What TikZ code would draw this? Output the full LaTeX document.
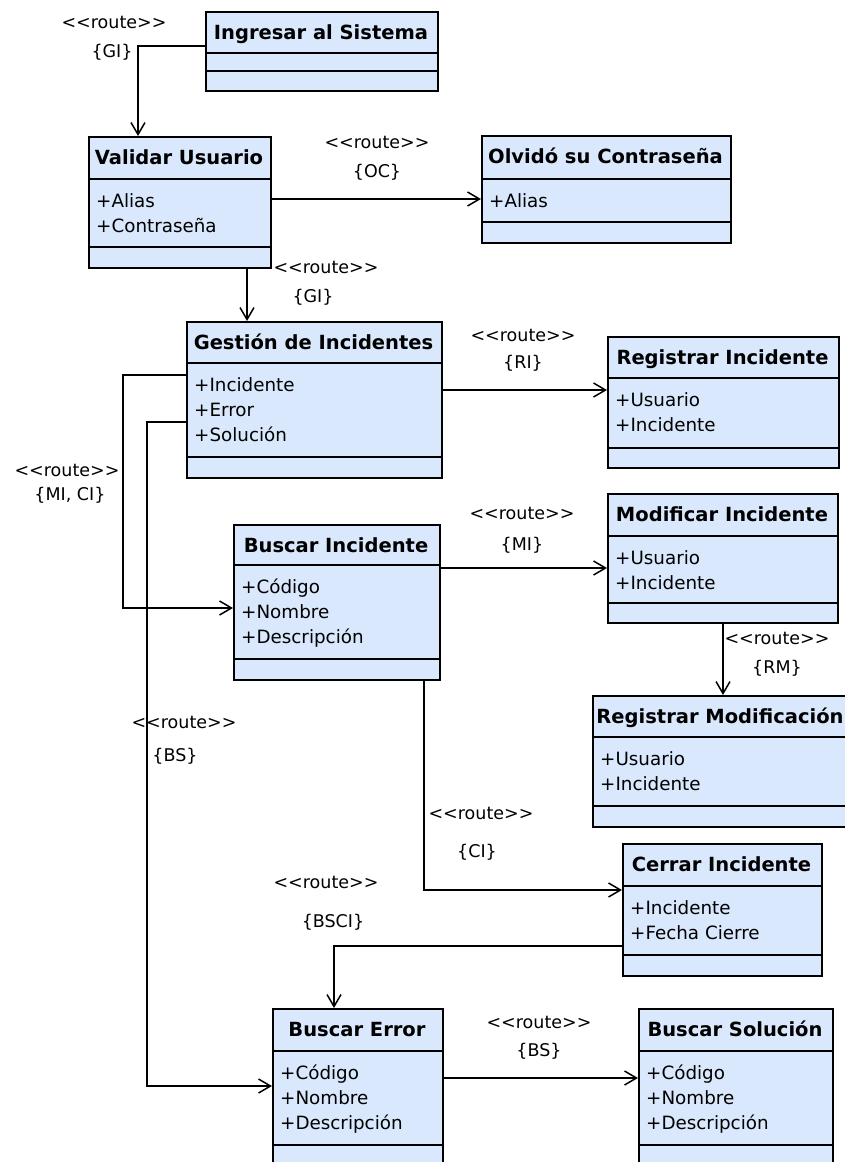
\documentclass[tikz,border=0pt]{standalone}
\usepackage{fontspec}
\setmainfont{DejaVu Sans}
\usetikzlibrary{arrows.meta,calc}
\definecolor{classfill}{RGB}{217,232,252}
\tikzset{
  classbox/.style={draw=black, fill=classfill, line width=1.6pt, rectangle, inner sep=0pt, anchor=north west},
  classline/.style={line width=1.6pt},
  classtitle/.style={anchor=base, inner sep=0pt, font=\bfseries\fontsize{19.5}{23}\selectfont},
  classattr/.style={anchor=base west, inner sep=0pt, font=\fontsize{18.3}{22}\selectfont},
  routelbl/.style={inner sep=0pt, font=\fontsize{17.5}{21}\selectfont},
  route/.style={line width=1.5pt, -{Straight Barb[length=12pt,width=14pt,line width=1.5pt]}},
}
% stereotype text, kept apart so the angle brackets stay plain characters
\newcommand{\stereo}[1]{<\kern0pt<#1>\kern0pt>}
% class box: name, left, top, right, title separator, attribute separator, bottom, title
\newcommand{\umlclass}[8]{%
  \node[classbox, minimum width={(#4-#2)*1pt}, minimum height={(#7-#3)*1pt}] (#1) at (#2,#3) {};
  \draw[classline] (#2,#5) -- (#4,#5) (#2,#6) -- (#4,#6);
  \node[classtitle] (#1-title) at ({(#2+#4)/2},#3+28) {#8};
}
% attribute lines: name, left, title separator, list
\newcommand{\umlattrs}[4]{%
  \foreach \t [count=\i] in {#4} {\node[classattr] (#1-a\i) at (#2+8,#3+28+25*\i-25) {\t};}
}
\begin{document}
\begin{tikzpicture}[x=1pt,y=-1pt]
\fill[white] (0,0) rectangle (845,1162);
\clip (0,0) rectangle (845,1162);

% classes
\umlclass{ing}{205}{11}{437}{53}{71}{90}{Ingresar al Sistema}
\umlclass{val}{88}{136}{270}{179}{247}{267}{Validar Usuario}
\umlattrs{val}{88}{179}{+Alias,+Contraseña}
\umlclass{olv}{481}{135}{730}{179}{222}{242}{Olvidó su Contraseña}
\umlattrs{olv}{481}{179}{+Alias}
\umlclass{ges}{186}{321}{441}{363}{457}{477}{Gestión de Incidentes}
\umlattrs{ges}{186}{363}{+Incidente,+Error,+Solución}
\umlclass{reg}{607}{336}{838}{378}{448}{467}{Registrar Incidente}
\umlattrs{reg}{607}{378}{+Usuario,+Incidente}
\umlclass{bus}{233}{524}{439}{565}{659}{679}{Buscar Incidente}
\umlattrs{bus}{233}{565}{+Código,+Nombre,+Descripción}
\umlclass{mod}{607}{493}{837}{536}{603}{622}{Modificar Incidente}
\umlattrs{mod}{607}{536}{+Usuario,+Incidente}
\umlclass{rmod}{592}{695}{848}{737}{806}{826}{Registrar Modificación}
\umlattrs{rmod}{592}{737}{+Usuario,+Incidente}
\umlclass{cer}{622}{843}{821}{886}{955}{975}{Cerrar Incidente}
\umlattrs{cer}{622}{886}{+Incidente,+Fecha Cierre}
\umlclass{berr}{272}{1008}{442}{1051}{1145}{1172}{Buscar Error}
\umlattrs{berr}{272}{1051}{+Código,+Nombre,+Descripción}
\umlclass{sol}{638}{1008}{832}{1051}{1145}{1172}{Buscar Solución}
\umlattrs{sol}{638}{1051}{+Código,+Nombre,+Descripción}

% connectors
\draw[route] ($(ing.north west)+(0,35)$) -| ($(val.north west)+(50,0)$);
\draw[route] ($(val.north east)+(0,63)$) -- ($(olv.north west)+(0,64)$);
\draw[route] ($(val.south west)+(159,0)$) -- ($(ges.north west)+(61,0)$);
\draw[route] ($(ges.north east)+(0,69)$) -- ($(reg.north west)+(0,54)$);
\draw[route] ($(ges.north west)+(0,54)$) -- ++(-63,0) |- ($(bus.north west)+(0,84)$);
\draw[route] ($(ges.north west)+(0,101)$) -- ++(-39,0) |- ($(berr.north west)+(0,78)$);
\draw[route] ($(bus.north east)+(0,44)$) -- ($(mod.north west)+(0,75)$);
\draw[route] ($(mod.south west)+(116,0)$) -- ($(rmod.north west)+(131,0)$);
\draw[route] ($(bus.south west)+(191,0)$) |- ($(cer.north west)+(0,47)$);
\draw[route] ($(cer.north west)+(0,103)$) -| ($(berr.north west)+(62,0)$);
\draw[route] ($(berr.north east)+(0,70)$) -- ($(sol.north west)+(0,70)$);

% connector labels
\node[routelbl] (l1s) at (114,22) {\stereo{route}};
\node[routelbl] (l1n) at (112,52) {\{GI\}};
\node[routelbl] (l2s) at (377,142) {\stereo{route}};
\node[routelbl] (l2n) at (377,172) {\{OC\}};
\node[routelbl] (l3s) at (326,267) {\stereo{route}};
\node[routelbl] (l3n) at (313,297) {\{GI\}};
\node[routelbl] (l4s) at (523,335) {\stereo{route}};
\node[routelbl] (l4n) at (523,363) {\{RI\}};
\node[routelbl] (l5s) at (67,470) {\stereo{route}};
\node[routelbl] (l5n) at (70,495) {\{MI, CI\}};
\node[routelbl] (l6s) at (184,722) {\stereo{route}};
\node[routelbl] (l6n) at (175,756) {\{BS\}};
\node[routelbl] (l7s) at (522,513) {\stereo{route}};
\node[routelbl] (l7n) at (522,545) {\{MI\}};
\node[routelbl] (l8s) at (777,638) {\stereo{route}};
\node[routelbl] (l8n) at (777,668) {\{RM\}};
\node[routelbl] (l9s) at (481,813) {\stereo{route}};
\node[routelbl] (l9n) at (477,852) {\{CI\}};
\node[routelbl] (l10s) at (326,882) {\stereo{route}};
\node[routelbl] (l10n) at (333,922) {\{BSCI\}};
\node[routelbl] (l11s) at (539,1022) {\stereo{route}};
\node[routelbl] (l11n) at (539,1051) {\{BS\}};
\end{tikzpicture}
\end{document}
